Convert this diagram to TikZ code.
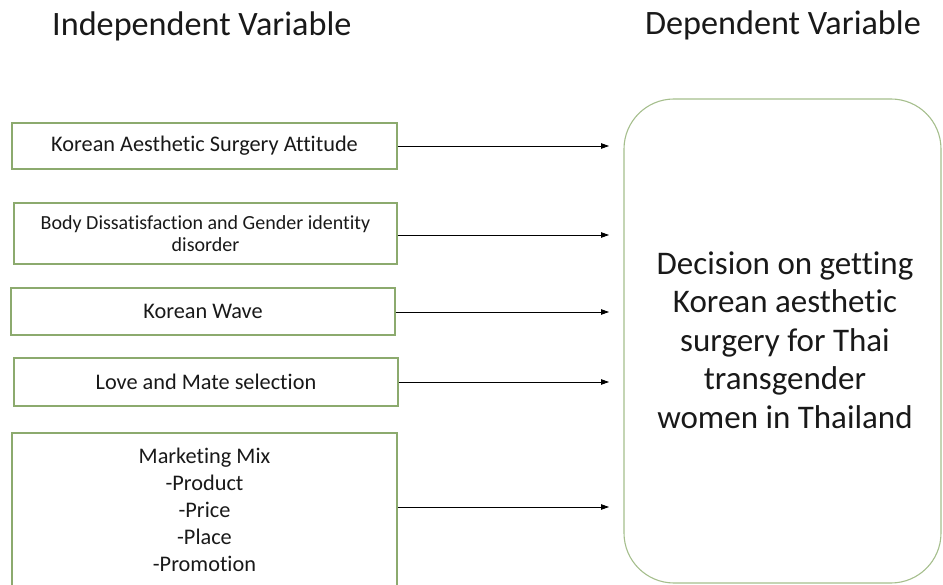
\documentclass[tikz,border=0pt]{standalone}
\usepackage{fontspec}
\setmainfont{Carlito}[Ligatures=NoCommon]
\usetikzlibrary{arrows.meta}
\definecolor{boxline}{RGB}{140,170,110}
\definecolor{rboxline}{RGB}{165,190,140}
\definecolor{txt}{RGB}{25,25,25}
\tikzset{
  ivbox/.style={draw=boxline, line width=1.1pt, minimum width=385pt, inner sep=0pt, align=center, text=txt, font=\fontsize{22.3}{27}\selectfont},
  dvbox/.style={draw=rboxline, line width=1.1pt, rounded corners=50pt, minimum width=317pt, minimum height=484pt, inner sep=0pt},
  heading/.style={text=txt, font=\fontsize{34.2}{40}\selectfont, inner sep=0pt},
  arr/.style={line width=0.8pt, draw=black, -{Triangle[length=8pt,width=5.5pt]}}
}
\begin{document}
\begin{tikzpicture}[x=1pt,y=-1pt]
\useasboundingbox (0,0) rectangle (943,585);
\clip (0,0) rectangle (943,585);
\node[heading, anchor=base west] (hi) at (52,36) {Independent Variable};
\node[heading, anchor=base east] (hd) at (921,35) {Dependent Variable};

\node[ivbox, minimum height=46pt] (b1) at (204.5,146) {Korean Aesthetic Surgery Attitude};
\node[ivbox, minimum height=61pt, minimum width=383pt, font=\fontsize{20}{22.5}\selectfont] (b2) at (205.5,233.5) {Body Dissatisfaction and Gender identity\\disorder};
\node[ivbox, minimum height=47pt, minimum width=384pt] (b3) at (203,311.5) {Korean Wave};
\node[ivbox, minimum height=48pt, minimum width=384pt] (b4) at (206,382) {Love and Mate selection};
\node[ivbox, minimum height=154pt] (b5) at (204.5,510) {Marketing Mix\\-Product\\-Price\\-Place\\-Promotion};

\node[dvbox] (dv) at (782.5,341) {};
\node[text=txt, align=center, font=\fontsize{33}{38.5}\selectfont, inner sep=0pt] (dvt) at (785,340) {Decision on getting\\Korean aesthetic\\surgery for Thai\\transgender\\women in Thailand};

\coordinate (t1) at (609,146);
\coordinate (t2) at (609,235);
\coordinate (t3) at (609,312);
\coordinate (t4) at (609,382);
\coordinate (t5) at (609,507);
\draw[arr] (b1.east |- t1) -- (t1);
\draw[arr] (b2.east |- t2) -- (t2);
\draw[arr] (b3.east |- t3) -- (t3);
\draw[arr] (b4.east |- t4) -- (t4);
\draw[arr] (b5.east |- t5) -- (t5);
\end{tikzpicture}
\end{document}
